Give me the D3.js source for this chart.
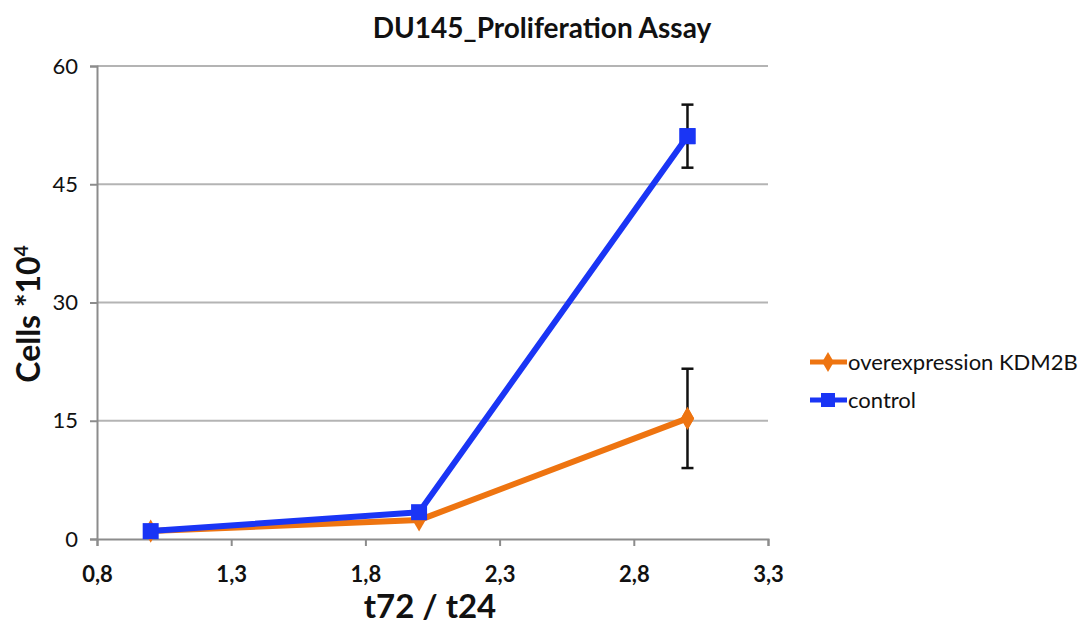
<!DOCTYPE html>
<html><head><meta charset="utf-8">
<script src="https://cdn.jsdelivr.net/npm/d3@7"></script>
<style>body{margin:0;background:#fff}svg{display:block}text{font-family:Lato,"Open Sans",sans-serif}</style>
</head><body><svg id="c" width="1091" height="628"></svg>
<script>
const xValues = [1, 2, 3];
const overexpression = [1.0, 2.4, 15.3];
const overexpressionErr = [0, 0, 6.3];
const control = [1.0, 3.4, 51.1];
const controlErr = [0, 0, 4.0];
const xTicks = [0.8, 1.3, 1.8, 2.3, 2.8, 3.3];
const yTicks = [0, 15, 30, 45, 60];
const seriesNames = ["overexpression KDM2B", "control"];
const colors = ["#ee7410", "#1a35f5"];

const svg = d3.select("#c");
const x = d3.scaleLinear().domain([0.8, 3.3]).range([97, 768]);
const y = d3.scaleLinear().domain([0, 60]).range([539, 66]);

svg.append("g").selectAll("line").data(yTicks.filter(d => d > 0)).join("line")
  .attr("x1", x(0.8)).attr("x2", x(3.3)).attr("y1", d => y(d)).attr("y2", d => y(d))
  .attr("stroke", "#b4b4b4").attr("stroke-width", 2);

const yAxis = svg.append("g").attr("transform", `translate(${x(0.8)},0)`)
  .call(d3.axisLeft(y).tickValues(yTicks).tickSize(7).tickPadding(12).tickFormat(d3.format("d")));
const xAxis = svg.append("g").attr("transform", `translate(0,${y(0)})`)
  .call(d3.axisBottom(x).tickValues(xTicks).tickSize(7).tickPadding(20).tickFormat(d => d.toFixed(1).replace(".", ",")));
[yAxis, xAxis].forEach(a => {
  a.select(".domain").attr("stroke", "#8c8c8c").attr("stroke-width", 2);
  a.selectAll(".tick line").attr("stroke", "#8c8c8c").attr("stroke-width", 2);
  a.selectAll(".tick text").attr("fill", "#111").attr("font-size", 22).attr("font-family", "Lato, 'Open Sans', sans-serif");
});
xAxis.selectAll(".tick text").attr("font-weight", "bold").attr("font-size", 22);

const line = d3.line().x((d, i) => x(xValues[i])).y(d => y(d));
const data = [
  {vals: overexpression, err: overexpressionErr, color: colors[0], marker: "diamond"},
  {vals: control, err: controlErr, color: colors[1], marker: "square"}
];

data.forEach(s => {
  svg.append("path").datum(s.vals).attr("d", line).attr("fill", "none")
    .attr("stroke", s.color).attr("stroke-width", 6).attr("stroke-linejoin", "round");
});
function marker(g, type, cx, cy, color, sz) {
  sz = sz || 16;
  if (type === "square") {
    g.append("rect").attr("x", cx - sz / 2).attr("y", cy - sz / 2).attr("width", sz).attr("height", sz).attr("fill", color);
  } else {
    g.append("path").attr("d", d3.symbol(d3.symbolDiamond, sz * sz * 0.6)()).attr("transform", `translate(${cx},${cy})`).attr("fill", color);
  }
}
data.forEach(s => {
  const g = svg.append("g");
  s.vals.forEach((v, i) => marker(g, s.marker, x(xValues[i]), y(v), s.color));
});
data.forEach(s => {
  s.vals.forEach((v, i) => {
    if (!s.err[i]) return;
    const cx = x(xValues[i]);
    const g = svg.append("g").attr("stroke", "#111").attr("stroke-width", 2.5);
    g.append("line").attr("x1", cx).attr("x2", cx).attr("y1", y(v + s.err[i])).attr("y2", y(v - s.err[i]));
    [v + s.err[i], v - s.err[i]].forEach(e => g.append("line").attr("x1", cx - 6).attr("x2", cx + 6).attr("y1", y(e)).attr("y2", y(e)));
  });
});
data.forEach(s => {
  const g = svg.append("g");
  s.vals.forEach((v, i) => { if (s.err[i]) marker(g, s.marker, x(xValues[i]), y(v), s.color); });
});

svg.append("text").attr("x", 542).attr("y", 38).attr("text-anchor", "middle")
  .attr("font-size", 28).attr("font-weight", "bold").attr("fill", "#111").text("DU145_Proliferation Assay");
svg.append("text").attr("x", 430).attr("y", 618).attr("text-anchor", "middle")
  .attr("font-size", 33).attr("font-weight", "bold").attr("fill", "#111").text("t72 / t24");
const yt = svg.append("text").attr("transform", "translate(40,314) rotate(-90)").attr("text-anchor", "middle")
  .attr("font-size", 32).attr("font-weight", "bold").attr("fill", "#111");
yt.append("tspan").text("Cells *10");
yt.append("tspan").attr("font-size", 19).attr("dy", -12).text("4");

const lg = svg.append("g");
seriesNames.forEach((n, i) => {
  const cy = 362 + i * 38;
  lg.append("line").attr("x1", 810).attr("x2", 847).attr("y1", cy).attr("y2", cy).attr("stroke", colors[i]).attr("stroke-width", 5);
  marker(lg, data[i].marker, 828, cy, colors[i], 14);
  lg.append("text").attr("x", 848).attr("y", cy).attr("dy", "0.35em").attr("font-size", 22).attr("fill", "#111").text(n);
});
</script></body></html>
